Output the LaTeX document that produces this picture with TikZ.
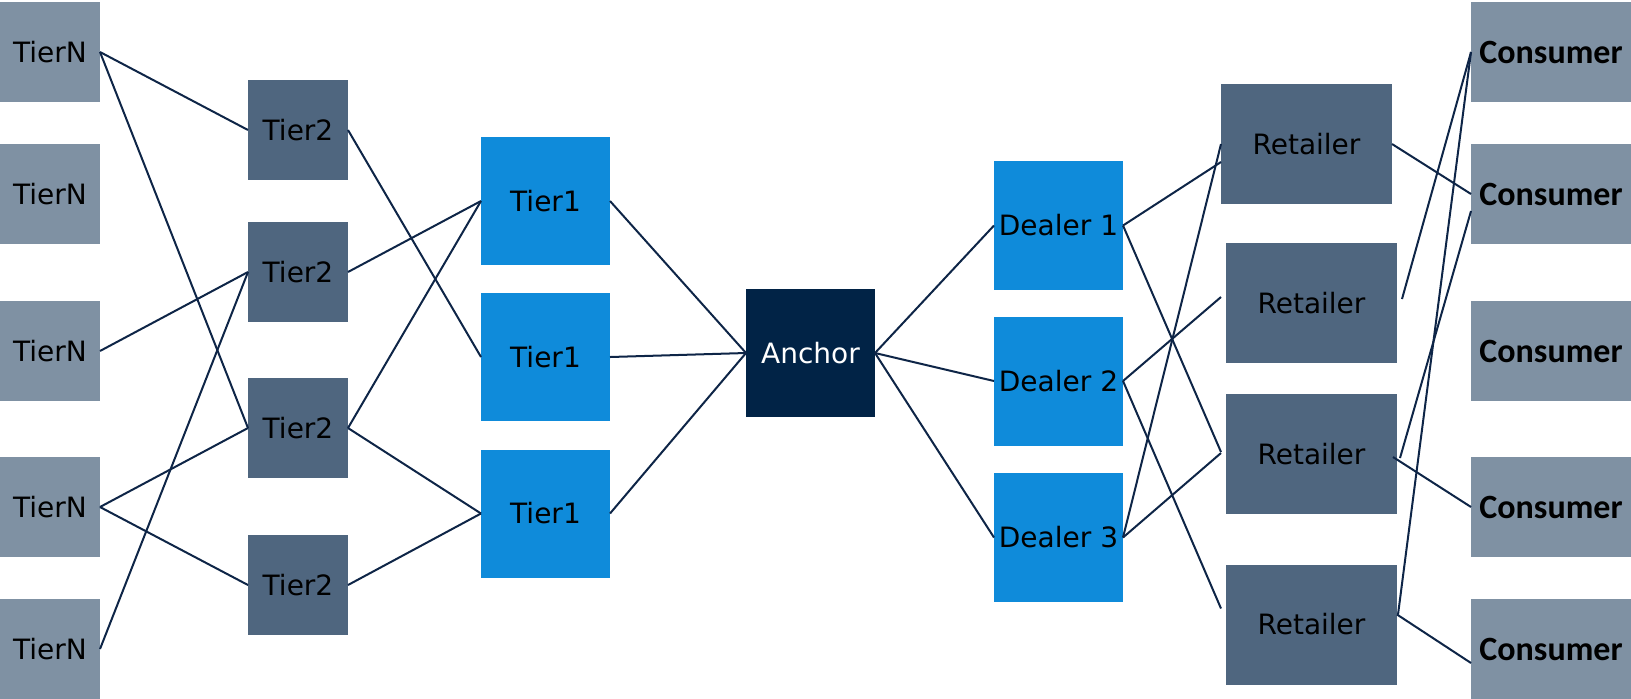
\documentclass[tikz,border=0pt]{standalone}
\usepackage{fontspec}
\setmainfont{DejaVu Sans}
\newfontfamily\consumerfont{Carlito}
\definecolor{slatelight}{HTML}{7F91A3}
\definecolor{slatemid}{HTML}{4F667F}
\definecolor{brightblue}{HTML}{0F8BDA}
\definecolor{deepnavy}{HTML}{012346}
\definecolor{linknavy}{HTML}{0E2547}
\tikzset{
  box/.style={rectangle, inner sep=0pt, outer sep=0pt, draw=none, text=black,
    font=\fontsize{14pt}{16pt}\selectfont},
  tiern/.style={box, fill=slatelight, minimum width=50pt, minimum height=50pt},
  tiertwo/.style={box, fill=slatemid, minimum width=50pt, minimum height=50pt},
  tierone/.style={box, fill=brightblue, minimum width=64.5pt, minimum height=64pt},
  anchorbox/.style={box, fill=deepnavy, text=white, minimum width=64.5pt, minimum height=64pt},
  dealer/.style={box, fill=brightblue, minimum width=64.5pt, minimum height=64.5pt},
  retailer/.style={box, fill=slatemid, minimum width=85.5pt, minimum height=60pt},
  consumer/.style={box, fill=slatelight, minimum width=80pt, minimum height=50pt,
    font=\consumerfont\bfseries\fontsize{17pt}{19pt}\selectfont},
  link/.style={draw=linknavy, line width=1pt}
}
\begin{document}
\begin{tikzpicture}[x=0.5pt, y=-0.5pt]
\useasboundingbox (0,0) rectangle (1631,698);

% suppliers, far left
\node[tiern] (n1) at (50,52)  {TierN};
\node[tiern] (n2) at (50,194) {TierN};
\node[tiern] (n3) at (50,351) {TierN};
\node[tiern] (n4) at (50,507) {TierN};
\node[tiern] (n5) at (50,649) {TierN};

% second tier
\node[tiertwo] (t2a) at (298,130) {Tier2};
\node[tiertwo] (t2b) at (298,272) {Tier2};
\node[tiertwo] (t2c) at (298,428) {Tier2};
\node[tiertwo] (t2d) at (298,585) {Tier2};

% first tier
\node[tierone] (t1a) at (545.5,201)   {Tier1};
\node[tierone] (t1b) at (545.5,357)   {Tier1};
\node[tierone] (t1c) at (545.5,513.5) {Tier1};

% centre
\node[anchorbox] (anc) at (810.5,353) {Anchor};

% dealers
\node[dealer] (d1) at (1058.5,225.5) {Dealer 1};
\node[dealer] (d2) at (1058.5,381)   {Dealer 2};
\node[dealer] (d3) at (1058.5,537.5) {Dealer 3};

% retailers
\node[retailer] (r1) at (1306.5,144)   {Retailer};
\node[retailer] (r2) at (1311.5,303)   {Retailer};
\node[retailer] (r3) at (1311.5,454)   {Retailer};
\node[retailer] (r4) at (1311.5,624.5) {Retailer};

% consumers, far right
\node[consumer] (c1) at (1551,52)  {Consumer};
\node[consumer] (c2) at (1551,194) {Consumer};
\node[consumer] (c3) at (1551,351) {Consumer};
\node[consumer] (c4) at (1551,507) {Consumer};
\node[consumer] (c5) at (1551,649) {Consumer};

% TierN -- Tier2
\draw[link] (n1.east) -- (t2a.west);
\draw[link] (n1.east) -- (t2c.west);
\draw[link] (t2b.west) -- (n5.east);
\draw[link] (n3.east) -- (t2b.west);
\draw[link] (n4.east) -- (t2c.west);
\draw[link] (n4.east) -- (t2d.west);

% Tier2 -- Tier1
\draw[link] (t2a.east) -- (t1b.west);
\draw[link] (t2b.east) -- (t1a.west);
\draw[link] (t2c.east) -- (t1a.west);
\draw[link] (t2c.east) -- (t1c.west);
\draw[link] (t2d.east) -- (t1c.west);

% Tier1 -- Anchor
\draw[link] (t1a.east) -- (anc.west);
\draw[link] (t1b.east) -- (anc.west);
\draw[link] (t1c.east) -- (anc.west);

% Anchor -- Dealers
\draw[link] (anc.east) -- (d1.west);
\draw[link] (anc.east) -- (d2.west);
\draw[link] (anc.east) -- (d3.west);

% Dealers -- Retailers
\draw[link] (d1.east) -- ([yshift=-9pt]r1.west);
\draw[link] (d1.east) -- ([xshift=-2.5pt,yshift=1pt]r3.west);
\draw[link] (d2.east) -- ([xshift=-2.5pt,yshift=3pt]r2.west);
\draw[link] (d2.east) -- ([xshift=-2.5pt,yshift=8pt]r4.west);
\draw[link] (d3.east) -- ([xshift=-2.5pt,yshift=0.5pt]r3.west);
\draw[link] (d3.east) -- (r1.west);

% Retailers -- Consumers
\draw[link] (r1.east) -- (c2.west);
\draw[link] ([xshift=2.5pt,yshift=2pt]r2.east) -- (c1.west);
\draw[link] (c1.west) -- ([xshift=0.5pt,yshift=5pt]r4.east);
\draw[link] ([yshift=-8.5pt]c2.west) -- ([xshift=1.5pt,yshift=-2pt]r3.east);
\draw[link] ([xshift=-2pt,yshift=-1.5pt]r3.east) -- (c4.west);
\draw[link] ([yshift=5pt]r4.east) -- ([yshift=-7pt]c5.west);
\end{tikzpicture}
\end{document}
